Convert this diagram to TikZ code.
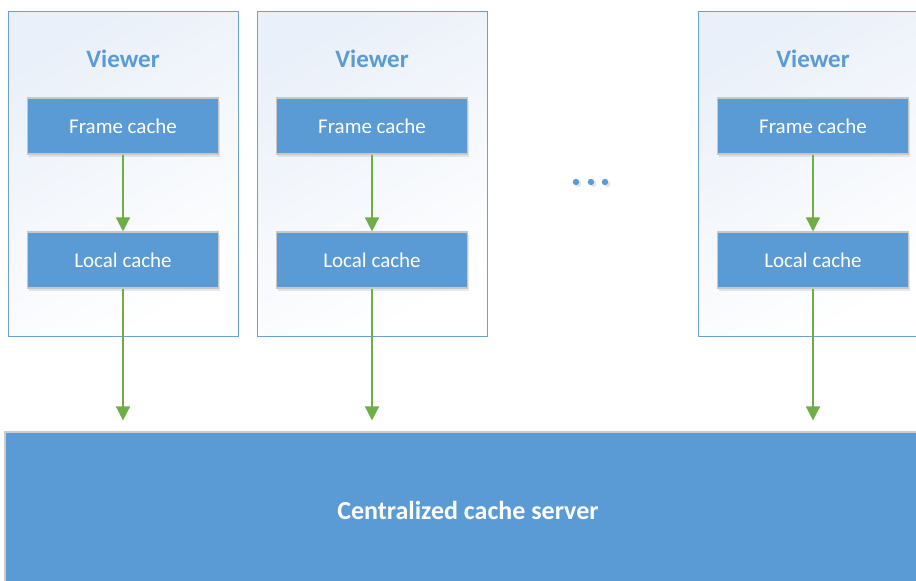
\documentclass[tikz,border=0pt]{standalone}
\usepackage{fontspec}
\setmainfont{Carlito}
\usepackage{tikz}
\usetikzlibrary{arrows.meta,shadows}

\definecolor{boxblue}{HTML}{5B9BD5}
\definecolor{edgeblue}{HTML}{6C9FD3}
\definecolor{arrowgreen}{HTML}{70AD47}
\definecolor{paleblue}{HTML}{EAF0F9}

\tikzset{
  viewerbox/.style={draw=edgeblue, line width=1pt, top color=paleblue, bottom color=white,
    shading angle=30, minimum width=230pt, minimum height=325pt, inner sep=0pt},
  cachebox/.style={draw=black!22, line width=1.2pt, fill=boxblue, text=white,
    minimum width=191pt, minimum height=56pt, font=\fontsize{21}{24}\selectfont,
    drop shadow={opacity=0.18, shadow xshift=1pt, shadow yshift=-3pt}},
  flow/.style={draw=arrowgreen, line width=1.6pt, -{Triangle[width=14pt,length=14pt]}}
}

\begin{document}
\begin{tikzpicture}[x=1pt,y=-1pt]
  \useasboundingbox (0,0) rectangle (916,581);
  % three viewers
  \foreach \n/\x in {1/123, 2/372, 3/813}{
    \node[viewerbox] (viewer\n) at (\x,173.5) {};
    \node[text=boxblue, font=\bfseries\fontsize{25}{28}\selectfont] (title\n) at (\x,59) {Viewer};
    \node[cachebox] (frame\n) at (\x,126) {Frame cache};
    \node[cachebox] (local\n) at (\x,260) {Local cache};
    \draw[flow] (frame\n) -- (local\n);
  }
  % central server
  \node[draw=black!20, line width=1.2pt, fill=boxblue, text=white, minimum width=926pt,
        minimum height=156pt, font=\bfseries\fontsize{26}{29}\selectfont] (server) at (468,510)
        {Centralized cache server};
  \foreach \n in {1,2,3}
    \draw[flow, shorten >=11pt] (local\n) -- (server.north -| local\n);
  % ellipsis
  \foreach \x in {576,591,605}
    \fill[boxblue, drop shadow={opacity=0.2, shadow yshift=-2pt}] (\x,182) circle (3.2pt);
\end{tikzpicture}
\end{document}
